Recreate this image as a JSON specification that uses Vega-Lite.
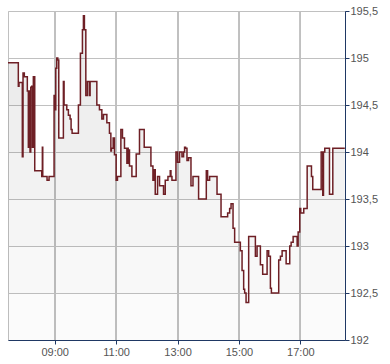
{
  "$schema": "https://vega.github.io/schema/vega-lite/v6.json",
  "width": 337,
  "height": 329,
  "autosize": {"type": "none"},
  "padding": {"left": 8, "top": 11, "right": 45, "bottom": 24},
  "background": "#ffffff",
  "data": {"values": [
    {"t":"2024-01-15T07:28:42","v":194.95},
    {"t":"2024-01-15T07:48:52","v":194.70},
    {"t":"2024-01-15T07:50:14","v":194.74},
    {"t":"2024-01-15T07:56:41","v":193.95},
    {"t":"2024-01-15T07:58:04","v":194.84},
    {"t":"2024-01-15T08:00:36","v":194.80},
    {"t":"2024-01-15T08:06:28","v":194.65},
    {"t":"2024-01-15T08:08:26","v":194.05},
    {"t":"2024-01-15T08:09:48","v":194.65},
    {"t":"2024-01-15T08:11:45","v":194.00},
    {"t":"2024-01-15T08:13:07","v":194.69},
    {"t":"2024-01-15T08:15:05","v":194.70},
    {"t":"2024-01-15T08:16:16","v":194.05},
    {"t":"2024-01-15T08:18:13","v":194.80},
    {"t":"2024-01-15T08:19:35","v":194.55},
    {"t":"2024-01-15T08:20:10","v":194.80},
    {"t":"2024-01-15T08:20:57","v":193.80},
    {"t":"2024-01-15T08:34:39","v":193.74},
    {"t":"2024-01-15T08:35:50","v":194.05},
    {"t":"2024-01-15T08:36:37","v":193.74},
    {"t":"2024-01-15T08:45:01","v":193.70},
    {"t":"2024-01-15T08:48:56","v":193.74},
    {"t":"2024-01-15T08:58:43","v":194.60},
    {"t":"2024-01-15T08:59:19","v":194.45},
    {"t":"2024-01-15T09:02:03","v":194.89},
    {"t":"2024-01-15T09:04:01","v":195.00},
    {"t":"2024-01-15T09:05:58","v":194.98},
    {"t":"2024-01-15T09:07:55","v":194.15},
    {"t":"2024-01-15T09:16:55","v":194.75},
    {"t":"2024-01-15T09:18:17","v":194.50},
    {"t":"2024-01-15T09:23:35","v":194.45},
    {"t":"2024-01-15T09:26:43","v":194.39},
    {"t":"2024-01-15T09:30:02","v":194.35},
    {"t":"2024-01-15T09:31:59","v":194.24},
    {"t":"2024-01-15T09:33:57","v":194.20},
    {"t":"2024-01-15T09:46:17","v":194.50},
    {"t":"2024-01-15T09:50:11","v":195.05},
    {"t":"2024-01-15T09:54:07","v":195.30},
    {"t":"2024-01-15T09:56:04","v":195.45},
    {"t":"2024-01-15T09:58:01","v":195.30},
    {"t":"2024-01-15T10:00:46","v":194.60},
    {"t":"2024-01-15T10:03:53","v":194.75},
    {"t":"2024-01-15T10:07:48","v":194.60},
    {"t":"2024-01-15T10:09:10","v":194.75},
    {"t":"2024-01-15T10:22:17","v":194.50},
    {"t":"2024-01-15T10:27:22","v":194.45},
    {"t":"2024-01-15T10:32:04","v":194.35},
    {"t":"2024-01-15T10:35:12","v":194.40},
    {"t":"2024-01-15T10:41:52","v":194.31},
    {"t":"2024-01-15T10:46:56","v":194.20},
    {"t":"2024-01-15T10:49:41","v":194.01},
    {"t":"2024-01-15T10:50:52","v":194.04},
    {"t":"2024-01-15T10:54:11","v":194.15},
    {"t":"2024-01-15T10:56:44","v":193.97},
    {"t":"2024-01-15T11:00:04","v":193.70},
    {"t":"2024-01-15T11:02:36","v":193.74},
    {"t":"2024-01-15T11:09:15","v":194.24},
    {"t":"2024-01-15T11:12:23","v":194.15},
    {"t":"2024-01-15T11:16:18","v":194.04},
    {"t":"2024-01-15T11:21:00","v":193.88},
    {"t":"2024-01-15T11:22:10","v":194.04},
    {"t":"2024-01-15T11:23:32","v":193.88},
    {"t":"2024-01-15T11:24:55","v":194.02},
    {"t":"2024-01-15T11:26:05","v":193.85},
    {"t":"2024-01-15T11:30:47","v":193.74},
    {"t":"2024-01-15T11:39:12","v":193.98},
    {"t":"2024-01-15T11:45:38","v":194.24},
    {"t":"2024-01-15T11:54:51","v":194.05},
    {"t":"2024-01-15T12:07:58","v":193.85},
    {"t":"2024-01-15T12:11:53","v":193.70},
    {"t":"2024-01-15T12:13:27","v":193.81},
    {"t":"2024-01-15T12:16:23","v":193.55},
    {"t":"2024-01-15T12:20:53","v":193.74},
    {"t":"2024-01-15T12:24:48","v":193.64},
    {"t":"2024-01-15T12:32:37","v":193.55},
    {"t":"2024-01-15T12:35:57","v":193.70},
    {"t":"2024-01-15T12:41:14","v":193.74},
    {"t":"2024-01-15T12:45:44","v":193.80},
    {"t":"2024-01-15T12:47:06","v":193.74},
    {"t":"2024-01-15T12:49:04","v":193.70},
    {"t":"2024-01-15T12:56:53","v":194.00},
    {"t":"2024-01-15T13:00:01","v":193.89},
    {"t":"2024-01-15T13:03:56","v":194.00},
    {"t":"2024-01-15T13:08:38","v":193.95},
    {"t":"2024-01-15T13:11:46","v":194.00},
    {"t":"2024-01-15T13:13:43","v":194.05},
    {"t":"2024-01-15T13:15:40","v":194.04},
    {"t":"2024-01-15T13:18:25","v":193.91},
    {"t":"2024-01-15T13:21:33","v":193.94},
    {"t":"2024-01-15T13:26:14","v":193.64},
    {"t":"2024-01-15T13:30:10","v":193.74},
    {"t":"2024-01-15T13:41:07","v":193.50},
    {"t":"2024-01-15T13:56:11","v":193.80},
    {"t":"2024-01-15T13:58:44","v":193.70},
    {"t":"2024-01-15T14:02:39","v":193.74},
    {"t":"2024-01-15T14:17:08","v":193.55},
    {"t":"2024-01-15T14:24:58","v":193.31},
    {"t":"2024-01-15T14:37:52","v":193.35},
    {"t":"2024-01-15T14:41:47","v":193.40},
    {"t":"2024-01-15T14:44:32","v":193.45},
    {"t":"2024-01-15T14:48:26","v":193.19},
    {"t":"2024-01-15T14:51:34","v":193.04},
    {"t":"2024-01-15T15:02:43","v":192.95},
    {"t":"2024-01-15T15:06:03","v":192.74},
    {"t":"2024-01-15T15:09:11","v":192.54},
    {"t":"2024-01-15T15:11:08","v":192.50},
    {"t":"2024-01-15T15:13:53","v":192.40},
    {"t":"2024-01-15T15:18:58","v":193.10},
    {"t":"2024-01-15T15:32:05","v":192.89},
    {"t":"2024-01-15T15:35:25","v":193.00},
    {"t":"2024-01-15T15:41:52","v":192.80},
    {"t":"2024-01-15T15:46:22","v":192.70},
    {"t":"2024-01-15T15:54:58","v":192.95},
    {"t":"2024-01-15T15:58:06","v":192.89},
    {"t":"2024-01-15T16:01:26","v":192.55},
    {"t":"2024-01-15T16:03:23","v":192.50},
    {"t":"2024-01-15T16:17:41","v":192.85},
    {"t":"2024-01-15T16:21:00","v":192.89},
    {"t":"2024-01-15T16:24:20","v":192.95},
    {"t":"2024-01-15T16:32:10","v":192.81},
    {"t":"2024-01-15T16:39:12","v":193.00},
    {"t":"2024-01-15T16:41:56","v":193.04},
    {"t":"2024-01-15T16:45:52","v":193.10},
    {"t":"2024-01-15T16:53:41","v":193.00},
    {"t":"2024-01-15T16:55:38","v":193.15},
    {"t":"2024-01-15T16:58:47","v":193.40},
    {"t":"2024-01-15T17:00:44","v":193.35},
    {"t":"2024-01-15T17:06:36","v":193.40},
    {"t":"2024-01-15T17:13:16","v":193.85},
    {"t":"2024-01-15T17:21:40","v":193.74},
    {"t":"2024-01-15T17:24:13","v":193.60},
    {"t":"2024-01-15T17:40:39","v":194.00},
    {"t":"2024-01-15T17:43:47","v":193.54},
    {"t":"2024-01-15T17:45:10","v":194.00},
    {"t":"2024-01-15T17:47:42","v":194.04},
    {"t":"2024-01-15T17:56:54","v":193.55},
    {"t":"2024-01-15T18:03:22","v":194.04},
    {"t":"2024-01-15T18:26:50","v":194.04}
  ]},
  "encoding": {
    "x": {
      "field": "t", "type": "temporal",
      "scale": {"domain": [
        {"year": 2024, "month": 1, "date": 15, "hours": 7, "minutes": 28, "seconds": 42},
        {"year": 2024, "month": 1, "date": 15, "hours": 18, "minutes": 27, "seconds": 12}
      ]},
      "axis": {
        "title": null,
        "orient": "bottom",
        "values": [
          {"year": 2024, "month": 1, "date": 15, "hours": 9},
          {"year": 2024, "month": 1, "date": 15, "hours": 11},
          {"year": 2024, "month": 1, "date": 15, "hours": 13},
          {"year": 2024, "month": 1, "date": 15, "hours": 15},
          {"year": 2024, "month": 1, "date": 15, "hours": 17}
        ],
        "format": "%H:%M",
        "grid": false,
        "domainColor": "#1f3864", "domainWidth": 1,
        "tickColor": "#1f3864", "tickSize": 4, "tickWidth": 1,
        "labelColor": "#555555", "labelFont": "Liberation Sans", "labelFontSize": 11,
        "labelPadding": 2, "labelFlush": false, "labelOverlap": false
      }
    }
  },
  "layer": [
    {"mark": {"type": "rule", "color": "#c0c0c0", "strokeWidth": 1},
     "encoding": {"x": {"datum": {"year": 2024, "month": 1, "date": 15, "hours": 9}, "type": "temporal"}}},
    {"mark": {"type": "rule", "color": "#c0c0c0", "strokeWidth": 1},
     "encoding": {"x": {"datum": {"year": 2024, "month": 1, "date": 15, "hours": 11}, "type": "temporal"}}},
    {"mark": {"type": "rule", "color": "#c0c0c0", "strokeWidth": 1},
     "encoding": {"x": {"datum": {"year": 2024, "month": 1, "date": 15, "hours": 13}, "type": "temporal"}}},
    {"mark": {"type": "rule", "color": "#c0c0c0", "strokeWidth": 1},
     "encoding": {"x": {"datum": {"year": 2024, "month": 1, "date": 15, "hours": 15}, "type": "temporal"}}},
    {"mark": {"type": "rule", "color": "#c0c0c0", "strokeWidth": 1},
     "encoding": {"x": {"datum": {"year": 2024, "month": 1, "date": 15, "hours": 17}, "type": "temporal"}}},
    {
      "mark": {"type": "area", "interpolate": "step-after", "clip": true, "color": "#000000", "opacity": 0.086},
      "encoding": {
        "y": {"field": "v", "type": "quantitative", "axis": null,
          "scale": {"domain": [195, 195.5], "range": [47, 0], "clamp": true, "zero": false, "nice": false}},
        "y2": {"datum": 195}
      }
    },
    {
      "mark": {"type": "area", "interpolate": "step-after", "clip": true, "color": "#000000", "opacity": 0.075},
      "encoding": {
        "y": {"field": "v", "type": "quantitative", "axis": null,
          "scale": {"domain": [194.5, 195], "range": [94, 47], "clamp": true, "zero": false, "nice": false}},
        "y2": {"datum": 194.5}
      }
    },
    {
      "mark": {"type": "area", "interpolate": "step-after", "clip": true, "color": "#000000", "opacity": 0.063},
      "encoding": {
        "y": {"field": "v", "type": "quantitative", "axis": null,
          "scale": {"domain": [194, 194.5], "range": [141, 94], "clamp": true, "zero": false, "nice": false}},
        "y2": {"datum": 194}
      }
    },
    {
      "mark": {"type": "area", "interpolate": "step-after", "clip": true, "color": "#000000", "opacity": 0.051},
      "encoding": {
        "y": {"field": "v", "type": "quantitative", "axis": null,
          "scale": {"domain": [193.5, 194], "range": [188, 141], "clamp": true, "zero": false, "nice": false}},
        "y2": {"datum": 193.5}
      }
    },
    {
      "mark": {"type": "area", "interpolate": "step-after", "clip": true, "color": "#000000", "opacity": 0.039},
      "encoding": {
        "y": {"field": "v", "type": "quantitative", "axis": null,
          "scale": {"domain": [193, 193.5], "range": [235, 188], "clamp": true, "zero": false, "nice": false}},
        "y2": {"datum": 193}
      }
    },
    {
      "mark": {"type": "area", "interpolate": "step-after", "clip": true, "color": "#000000", "opacity": 0.027},
      "encoding": {
        "y": {"field": "v", "type": "quantitative", "axis": null,
          "scale": {"domain": [192.5, 193], "range": [282, 235], "clamp": true, "zero": false, "nice": false}},
        "y2": {"datum": 192.5}
      }
    },
    {
      "mark": {"type": "area", "interpolate": "step-after", "clip": true, "color": "#000000", "opacity": 0.016},
      "encoding": {
        "y": {"field": "v", "type": "quantitative", "axis": null,
          "scale": {"domain": [192, 192.5], "range": [329, 282], "clamp": true, "zero": false, "nice": false}},
        "y2": {"datum": 192}
      }
    },
    {
      "mark": {"type": "line", "interpolate": "step-after", "clip": true, "color": "#6e1f25", "strokeWidth": 1.5},
      "encoding": {
        "y": {
          "field": "v", "type": "quantitative",
          "scale": {"domain": [192, 195.5], "zero": false, "nice": false},
          "axis": {
            "title": null,
            "orient": "right",
            "values": [192, 192.5, 193, 193.5, 194, 194.5, 195, 195.5],
            "labelExpr": "replace(format(datum.value, '.1~f'), '.', ',')",
            "grid": true, "gridColor": "#c0c0c0", "gridWidth": 1, "gridOpacity": 1,
            "domainColor": "#1f3864", "domainWidth": 1,
            "tickColor": "#1f3864", "tickSize": 4, "tickWidth": 1,
            "labelColor": "#555555", "labelFont": "Liberation Sans", "labelFontSize": 11,
            "labelPadding": 1, "labelFlush": false, "labelOverlap": false
          }
        }
      }
    }
  ],
  "resolve": {"scale": {"y": "independent"}, "axis": {"y": "independent"}},
  "config": {
    "view": {"stroke": "#c0c0c0", "strokeWidth": 1}
  }
}
